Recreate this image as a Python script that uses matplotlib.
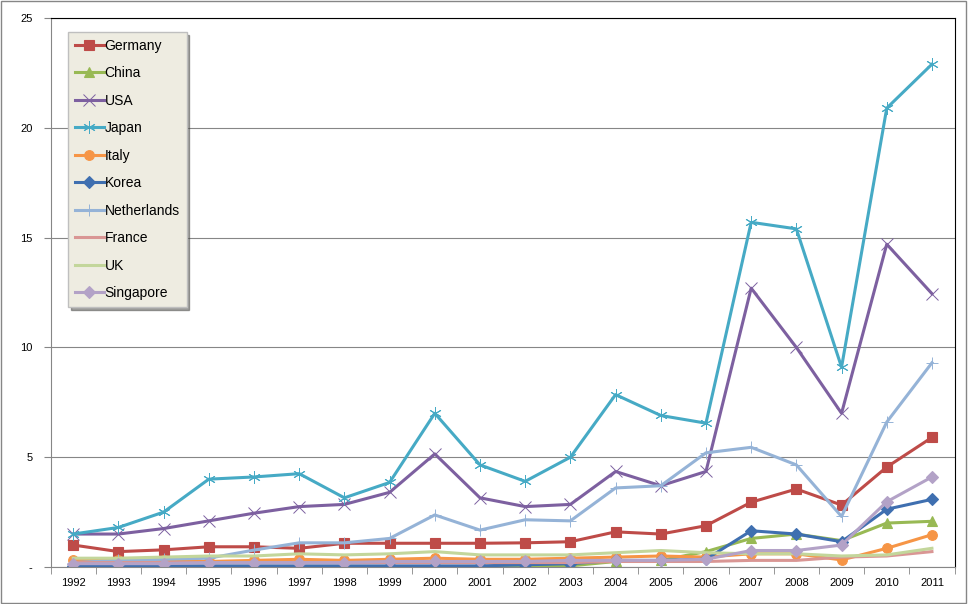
import matplotlib.pyplot as plt
import numpy as np

plt.rcParams['font.family'] = ['Liberation Sans', 'DejaVu Sans']

years = [str(y) for y in range(1992, 2012)]

germany = [1.0, 0.7, 0.78, 0.92, 0.92, 0.85, 1.08, 1.08, 1.08, 1.08,
           1.1, 1.15, 1.6, 1.5, 1.88, 2.95, 3.55, 2.82, 4.55, 5.9]
china = [0.0, 0.0, 0.0, 0.0, 0.0, 0.0, 0.0, 0.0, 0.0, 0.0,
         0.0, 0.05, 0.25, 0.3, 0.7, 1.3, 1.5, 1.2, 2.0, 2.08]
usa = [1.5, 1.5, 1.75, 2.1, 2.45, 2.75, 2.85, 3.4, 5.15, 3.15,
       2.75, 2.85, 4.35, 3.7, 4.35, 12.7, 10.0, 7.0, 14.7, 12.45]
japan = [1.5, 1.8, 2.5, 4.0, 4.1, 4.25, 3.15, 3.85, 7.0, 4.65,
         3.9, 5.0, 7.85, 6.9, 6.55, 15.7, 15.4, 9.1, 20.9, 22.9]
italy = [0.3, 0.3, 0.3, 0.25, 0.3, 0.35, 0.3, 0.35, 0.4, 0.35,
         0.35, 0.4, 0.45, 0.5, 0.45, 0.6, 0.6, 0.32, 0.85, 1.47]
korea = [0.05, 0.05, 0.05, 0.05, 0.05, 0.05, 0.05, 0.05, 0.05, 0.05,
         0.1, 0.15, 0.3, 0.3, 0.35, 1.65, 1.5, 1.15, 2.63, 3.08]
netherlands = [0.2, 0.3, 0.35, 0.4, 0.77, 1.1, 1.1, 1.3, 2.37, 1.68,
               2.15, 2.1, 3.6, 3.7, 5.2, 5.45, 4.65, 2.3, 6.6, 9.3]
france = [0.2, 0.2, 0.2, 0.2, 0.2, 0.2, 0.2, 0.2, 0.2, 0.2,
          0.2, 0.2, 0.25, 0.25, 0.25, 0.3, 0.3, 0.45, 0.5, 0.7]
uk = [0.4, 0.4, 0.45, 0.5, 0.5, 0.6, 0.55, 0.6, 0.7, 0.55,
      0.55, 0.55, 0.65, 0.75, 0.65, 0.6, 0.6, 0.5, 0.55, 0.85]
singapore = [0.15, 0.15, 0.15, 0.2, 0.2, 0.2, 0.2, 0.25, 0.25, 0.25,
             0.25, 0.3, 0.3, 0.3, 0.35, 0.75, 0.75, 1.0, 2.97, 4.1]

series = [
    ('Germany', germany, '#BE4B48', 's', 7),
    ('China', china, '#98B954', '^', 7),
    ('USA', usa, '#7D60A0', 'x', 8),
    ('Japan', japan, '#46AAC5', (6, 2, 0), 9),
    ('Italy', italy, '#F69546', 'o', 7),
    ('Korea', korea, '#3F6FB0', 'D', 6),
    ('Netherlands', netherlands, '#95B3D7', '+', 9),
    ('France', france, '#D99694', None, 0),
    ('UK', uk, '#C3D69B', None, 0),
    ('Singapore', singapore, '#B3A2C7', 'D', 6),
]

fig = plt.figure(figsize=(9.68, 6.04), dpi=100)
ax = fig.add_axes([0.0523, 0.0613, 0.9338, 0.9087])
x = np.arange(len(years))

for name, vals, color, marker, ms in series:
    thin = marker in ('x', '+', (6, 2, 0))
    ax.plot(x, vals, color=color, lw=2.2, marker=marker, markersize=ms,
            markeredgewidth=0.7 if thin else 0.8,
            markeredgecolor=color, label=name)

ax.set_xlim(-0.5, len(years) - 0.5)
ax.set_ylim(0, 25)
ax.set_xticks(x)
ax.set_xticklabels(years, fontsize=8)
ax.set_xticks(np.arange(-0.5, len(years)), minor=True)
ax.tick_params(axis='x', which='major', length=0, pad=8)
ax.tick_params(axis='x', which='minor', length=5, color='#868686', direction='out')
ax.set_yticks([0, 5, 10, 15, 20, 25])
ax.set_yticklabels(['-', '5', '10', '15', '20', '25'], fontsize=8)
ax.tick_params(axis='y', length=5, color='#868686', pad=8)
ax.yaxis.grid(True, color='#868686', lw=0.8)
ax.set_axisbelow(True)
for s in ('left', 'bottom'):
    ax.spines[s].set_color('#868686')
for s in ('top', 'right'):
    ax.spines[s].set_color('black')

leg = ax.legend(loc='upper left', bbox_to_anchor=(0.019, 0.975),
                borderaxespad=0, fontsize=10, handlelength=2.1,
                labelspacing=0.97, handletextpad=0.05, fancybox=False,
                shadow=True, framealpha=1, borderpad=0.5)
leg.get_frame().set_facecolor('#EEECE1')
leg.get_frame().set_edgecolor('#BFBFBF')

fig.patches.append(plt.Rectangle((0.001, 0.001), 0.997, 0.997, transform=fig.transFigure,
                                 fill=False, edgecolor='#868686', lw=1))

fig.savefig('out.png', dpi=100)
